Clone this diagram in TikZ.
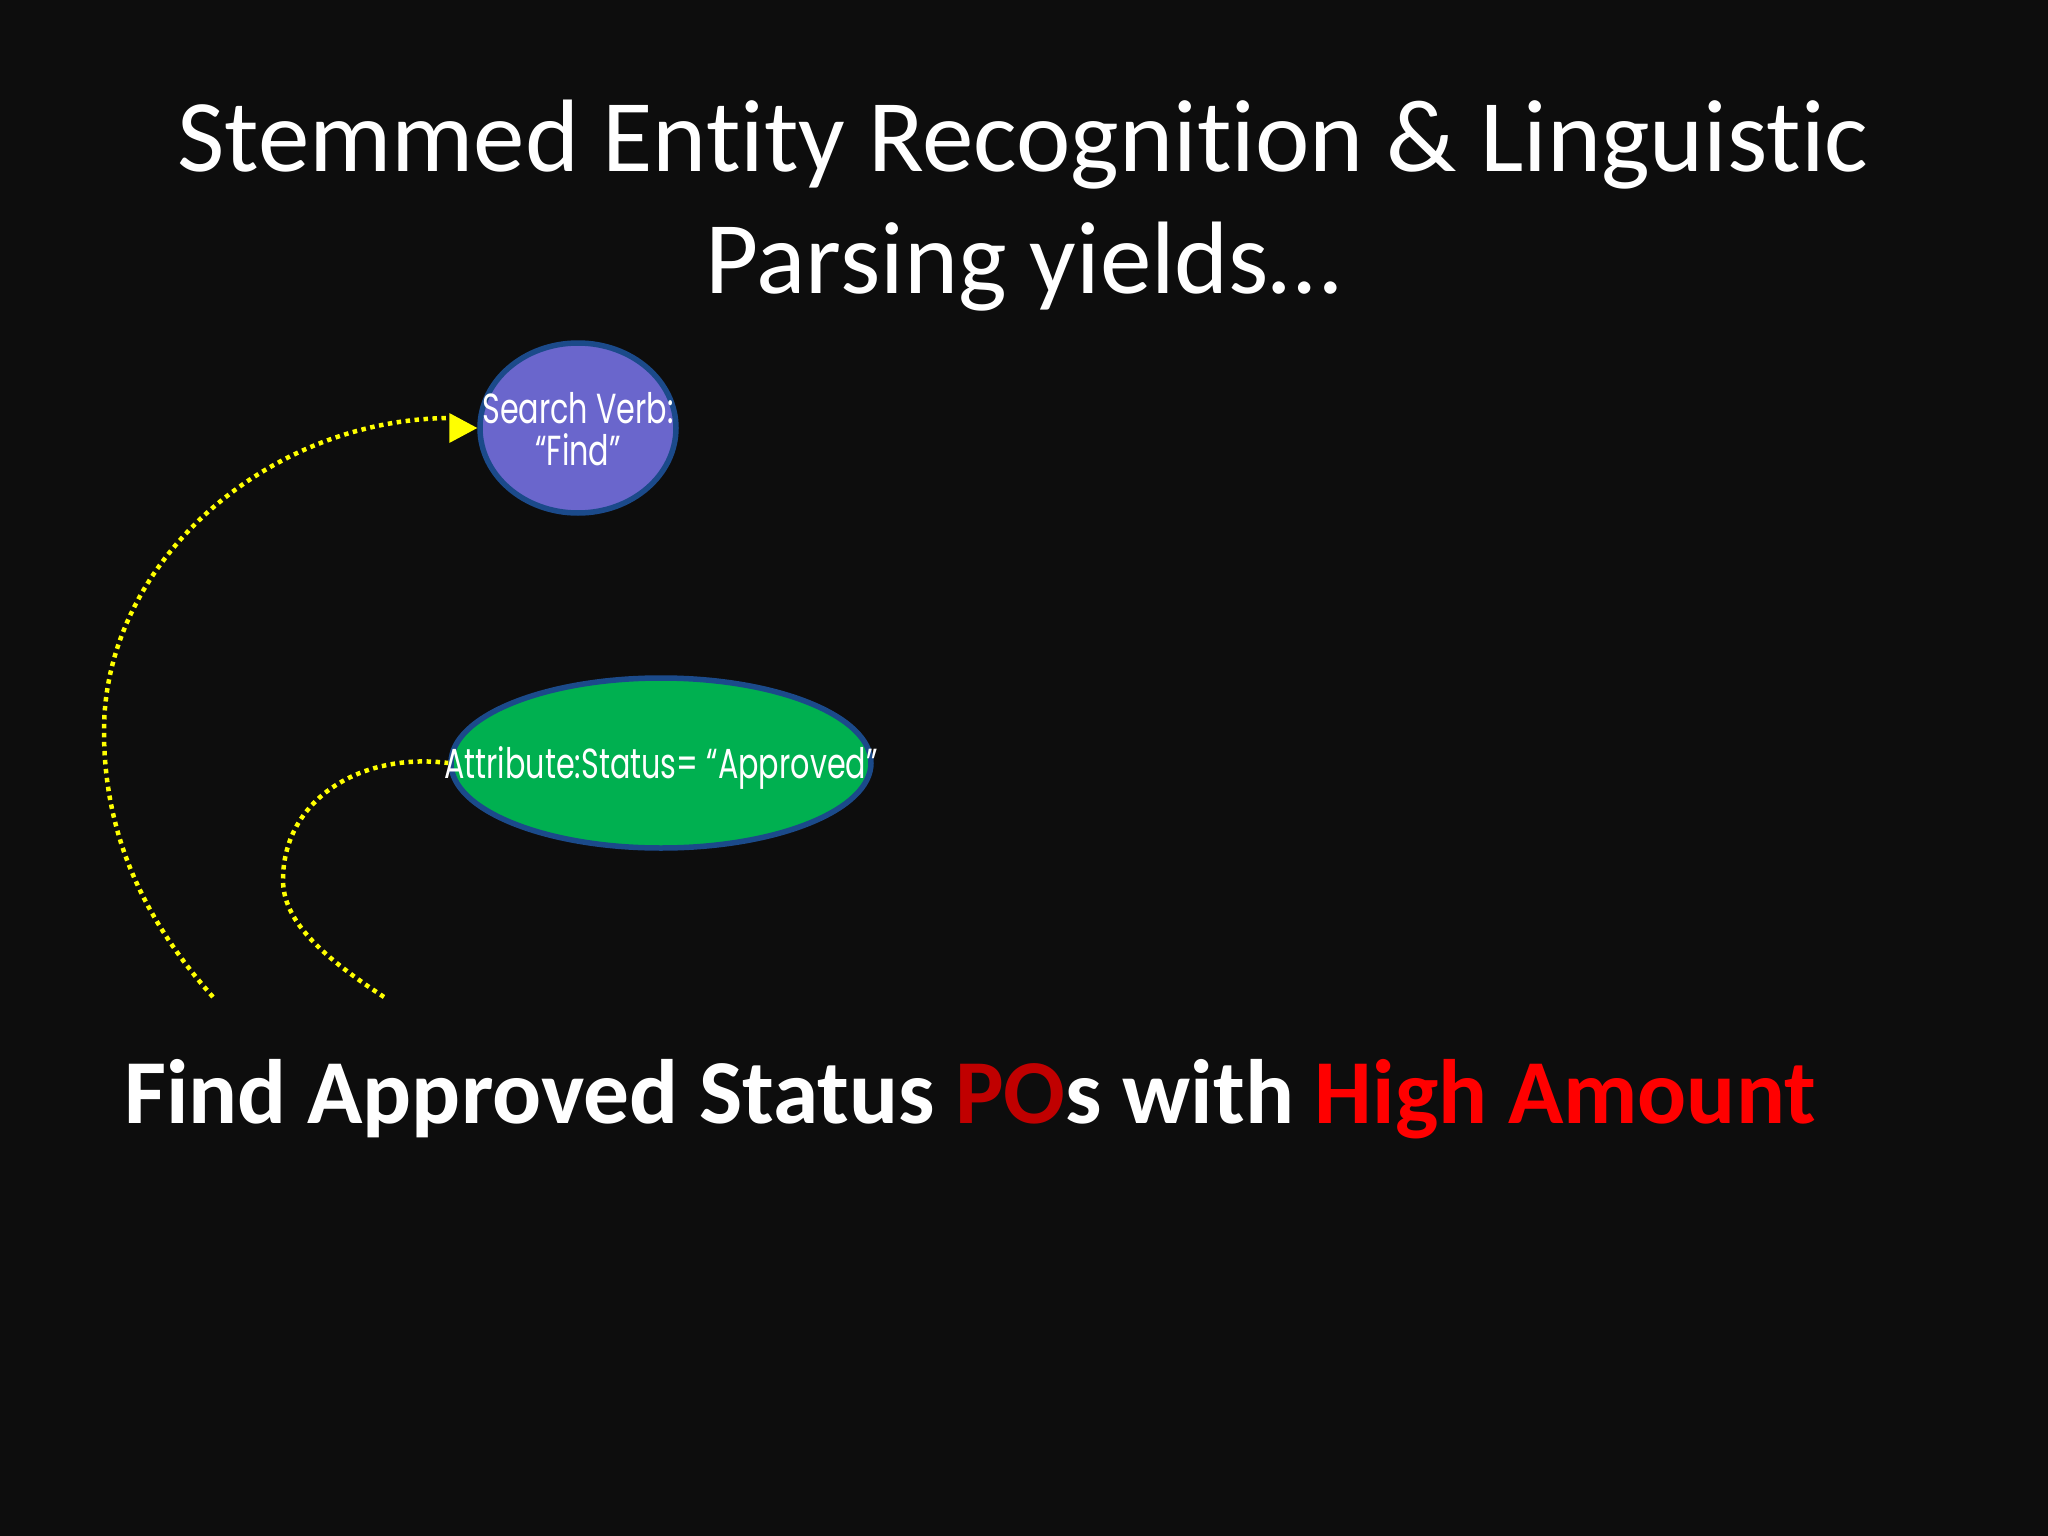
\documentclass[tikz,border=0pt]{standalone}
\usepackage{fontspec}
\setmainfont[Ligatures=NoCommon]{Carlito}
\newfontfamily\futura[FakeStretch=0.72]{Poppins}
\usetikzlibrary{shapes.geometric,arrows.meta}
\definecolor{bg}{HTML}{0D0D0D}
\definecolor{verbfill}{HTML}{6A66CC}
\definecolor{attrfill}{HTML}{00B050}
\definecolor{rimblue}{HTML}{1B4A8A}
\definecolor{darkred}{HTML}{C00000}
\definecolor{brightred}{HTML}{FF0000}
\definecolor{dotyellow}{HTML}{FFFF00}
\tikzset{
  blob/.style={ellipse, draw=rimblue, line width=5.5pt, inner sep=0pt},
  blobtext/.style={text=white, font=\futura\fontsize{42}{42}\selectfont, align=center, inner sep=0pt},
  dotline/.style={draw=dotyellow, line width=4.5pt, dash pattern=on 4.5pt off 4.5pt},
}
\begin{document}
\begin{tikzpicture}[x=1pt,y=-1pt]
\fill[bg] (0,0) rectangle (2048,1536);
\useasboundingbox (0,0) rectangle (2048,1536);

\node[text=white, font=\fontsize{103}{122}\selectfont, align=center, inner sep=0pt] (title) at (1023,206)
  {Stemmed Entity Recognition \& Linguistic\\Parsing yields\ldots};

\node[blob, fill=verbfill, minimum width=196pt, minimum height=170pt] (verb) at (578,428) {};
\node[blobtext] (verbtxt) at (578,429) {Search Verb:\\“Find”};

\node[blob, fill=attrfill, minimum width=420pt, minimum height=170pt] (attr) at (661,763) {};
\node[blobtext] (attrtxt) at (661,768) {Attribute:Status= “Approved”};

\coordinate (a1start) at (213,997);
\coordinate (a2start) at (384,997);

\draw[dotline] (a1start) .. controls (140,915) and (104,830) .. (104,731)
  .. controls (104,560) and (270,418) .. (452,418);
\fill[dotyellow] (verb.west) -- ++(-28,-15) -- ++(0,30) -- cycle;

\draw[dotline] (a2start) .. controls (320,955) and (283,920) .. (283,880)
  .. controls (283,800) and (360,752) .. (attr.west);

\node[font=\bfseries\fontsize{91.4}{110}\selectfont, text=white, inner sep=0pt, anchor=base west] (sentence) at (124,1123)
  {Find Approved Status \textcolor{darkred}{PO}s with \textcolor{brightred}{High Amount}};
\end{tikzpicture}
\end{document}
